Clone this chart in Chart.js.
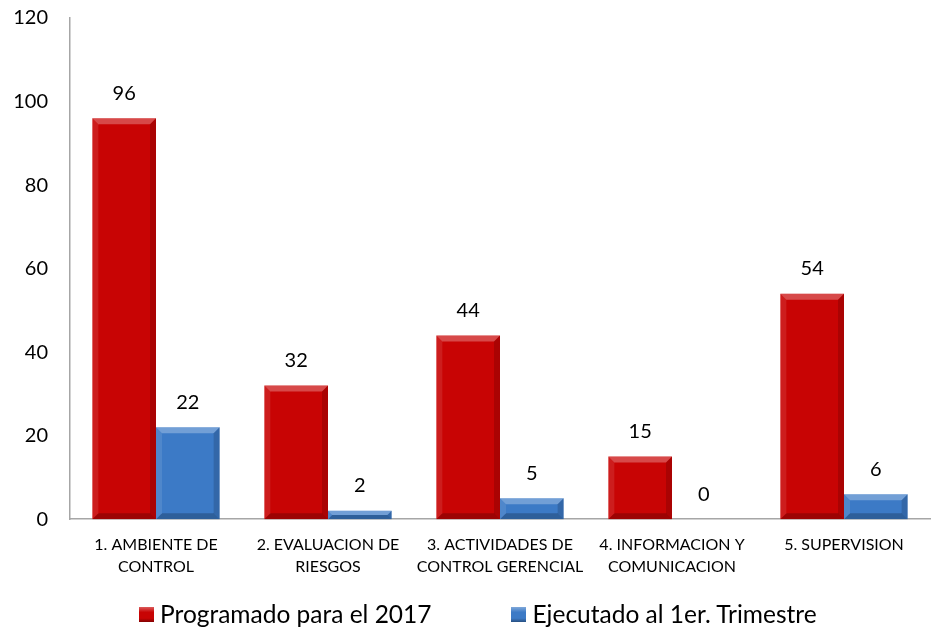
<!DOCTYPE html>
<html>
<head>
<meta charset="utf-8">
<script src="https://cdn.jsdelivr.net/npm/chart.js@4"></script>
<style>
  html, body { margin: 0; padding: 0; background: #fff; }
  #wrap { position: relative; width: 933px; height: 628px; }
  #legend {
    position: absolute; left: 139px; top: 599px;
    display: flex; align-items: center;
    font-family: Lato, Calibri, "Open Sans", sans-serif; font-size: 24.5px; color: #000;
    line-height: 30px; white-space: nowrap;
  }
  #legend .item { display: flex; align-items: center; margin-right: 80px; }
  #legend .box { width: 15px; height: 15px; margin-right: 6px; }
</style>
</head>
<body>
<div id="wrap">
  <canvas id="chart"></canvas>
  <div id="legend"></div>
</div>
<script>
const categories = [
    ['1. AMBIENTE DE', 'CONTROL'],
    ['2. EVALUACION DE', 'RIESGOS'],
    ['3. ACTIVIDADES DE', 'CONTROL GERENCIAL'],
    ['4. INFORMACION Y', 'COMUNICACION'],
    ['5. SUPERVISION']
];
const programado = [96, 32, 44, 15, 54];
const ejecutado = [22, 2, 5, 0, 6];
const seriesNames = ['Programado para el 2017', 'Ejecutado al 1er. Trimestre'];
const seriesColors = ['#C80404', '#3C7AC6'];

const FONT = 'Lato, Calibri, "Open Sans", sans-serif';

// Etiquetas de valor encima de cada barra
const valueLabels = {
    id: 'valueLabels',
    afterDatasetsDraw(chart) {
        const ctx = chart.ctx;
        ctx.save();
        ctx.font = '20px ' + FONT;
        ctx.fillStyle = '#000';
        ctx.textAlign = 'center';
        ctx.textBaseline = 'middle';
        chart.data.datasets.forEach((ds, i) => {
            chart.getDatasetMeta(i).data.forEach((bar, j) => {
                ctx.fillText(ds.data[j], bar.x, bar.y - 25);
            });
        });
        ctx.restore();
    }
};

// Efecto biselado en las barras
const bevel = {
    id: 'bevel',
    afterDatasetsDraw(chart) {
        const ctx = chart.ctx;
        chart.data.datasets.forEach((ds, i) => {
            chart.getDatasetMeta(i).data.forEach(bar => {
                const h = bar.base - bar.y;
                if (h < 1) return;
                const l = bar.x - bar.width / 2, r = bar.x + bar.width / 2;
                const t = bar.y, b = bar.base;
                const d = Math.min(6, h / 2);
                ctx.save();
                ctx.fillStyle = 'rgba(255,255,255,0.28)';
                ctx.beginPath();
                ctx.moveTo(l, t); ctx.lineTo(r, t); ctx.lineTo(r - d, t + d); ctx.lineTo(l + d, t + d);
                ctx.closePath(); ctx.fill();
                ctx.fillStyle = 'rgba(0,0,0,0.15)';
                ctx.beginPath();
                ctx.moveTo(r, t); ctx.lineTo(r, b); ctx.lineTo(r - d, b - d); ctx.lineTo(r - d, t + d);
                ctx.closePath(); ctx.fill();
                ctx.fillStyle = 'rgba(0,0,0,0.22)';
                ctx.beginPath();
                ctx.moveTo(l, b); ctx.lineTo(r, b); ctx.lineTo(r - d, b - d); ctx.lineTo(l + d, b - d);
                ctx.closePath(); ctx.fill();
                ctx.fillStyle = 'rgba(255,255,255,0.10)';
                ctx.beginPath();
                ctx.moveTo(l, t); ctx.lineTo(l + d, t + d); ctx.lineTo(l + d, b - d); ctx.lineTo(l, b);
                ctx.closePath(); ctx.fill();
                ctx.restore();
            });
        });
    }
};

new Chart(document.getElementById('chart'), {
    type: 'bar',
    data: {
        labels: categories,
        datasets: [
            { label: seriesNames[0], data: programado, backgroundColor: seriesColors[0], borderWidth: 0 },
            { label: seriesNames[1], data: ejecutado, backgroundColor: seriesColors[1], borderWidth: 0 }
        ]
    },
    options: {
        responsive: true,
        maintainAspectRatio: false,
        animation: false,
        layout: { padding: { top: 18, right: 3, bottom: 36, left: 0 } },
        datasets: {
            bar: { categoryPercentage: 0.74, barPercentage: 1.0 }
        },
        scales: {
            x: {
                grid: { display: false, drawTicks: false },
                border: { display: true, color: '#A6A6A6', width: 1.5 },
                ticks: {
                    color: '#000',
                    font: { family: FONT, size: 16, lineHeight: 1.4 },
                    padding: 14,
                    maxRotation: 0,
                    autoSkip: false
                }
            },
            y: {
                min: 0,
                max: 120,
                grid: { display: false, drawTicks: false },
                border: { display: true, color: '#A6A6A6', width: 1.5 },
                ticks: {
                    stepSize: 20,
                    color: '#000',
                    font: { family: FONT, size: 20 },
                    padding: 22
                },
                afterFit(scale) {
                    scale.width = 70;
                    scale.paddingTop = 0;
                    scale.paddingBottom = 0;
                }
            }
        },
        plugins: {
            legend: { display: false },
            tooltip: { enabled: false }
        }
    },
    plugins: [valueLabels, bevel]
});

// Leyenda debajo del gráfico
const legend = document.getElementById('legend');
seriesNames.forEach((name, i) => {
    const item = document.createElement('div');
    item.className = 'item';
    const box = document.createElement('span');
    box.className = 'box';
    box.style.background = `linear-gradient(180deg, rgba(255,255,255,0.35) 0%, ${seriesColors[i]} 35%, ${seriesColors[i]} 75%, rgba(0,0,0,0.35) 100%), ${seriesColors[i]}`;
    const text = document.createElement('span');
    text.textContent = name;
    item.appendChild(box);
    item.appendChild(text);
    legend.appendChild(item);
});
</script>
</body>
</html>
